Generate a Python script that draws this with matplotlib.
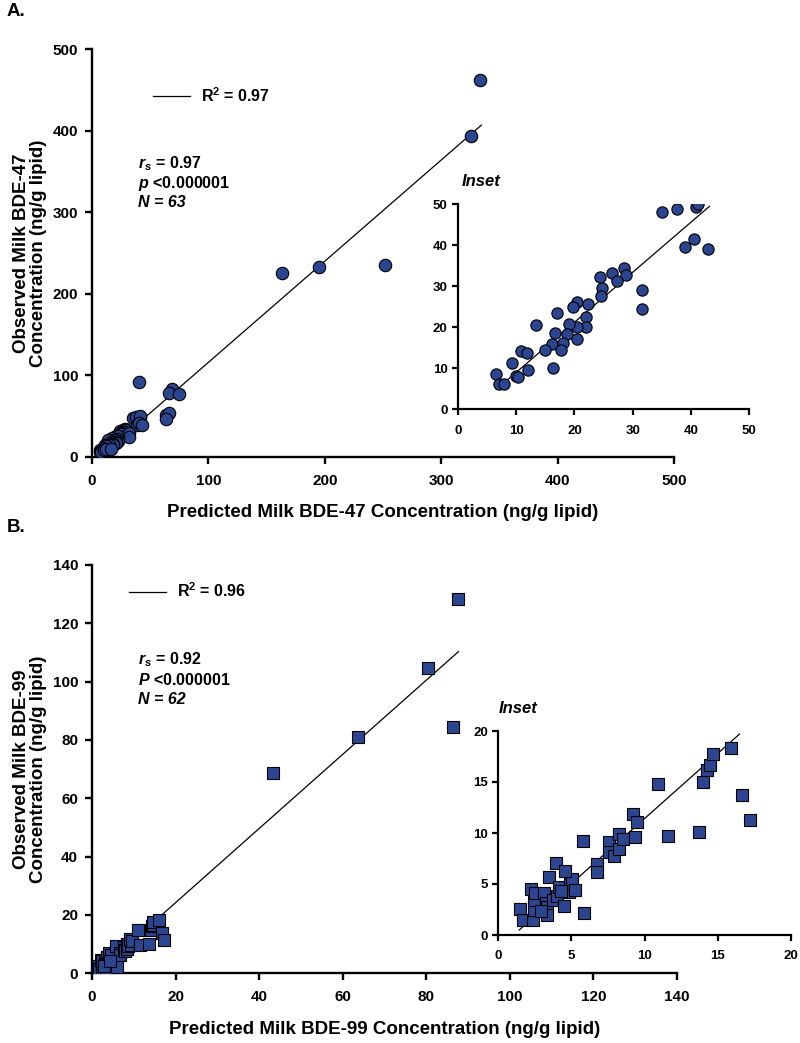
import matplotlib
matplotlib.use("Agg")
import matplotlib.pyplot as plt
import numpy as np

plt.rcParams['font.family'] = ['Liberation Sans', 'DejaVu Sans']
plt.rcParams['font.weight'] = 'bold'
plt.rcParams['mathtext.fontset'] = 'custom'
plt.rcParams['mathtext.it'] = 'Liberation Sans:italic:bold'
plt.rcParams['mathtext.rm'] = 'Liberation Sans:bold'
plt.rcParams['mathtext.bf'] = 'Liberation Sans:bold'

# ---------------- Panel A data (BDE-47) ----------------
a_pred = [35.0, 37.7, 40.9, 41.2, 39.0, 40.5, 24.4, 26.4, 28.5, 28.8, 27.4, 24.8,
          24.6, 31.7, 31.7, 20.4, 19.8, 22.4, 17.0, 22.0, 22.0, 20.5, 19.1, 13.4,
          16.7, 18.7, 20.4, 16.2, 18.0, 17.7, 14.9, 10.8, 11.8, 9.2, 6.6, 7.0,
          7.9, 9.9, 10.3, 12.1, 16.4, 43.0,
          40.7, 68.5, 66.5, 74.5, 63.6, 66.5, 63.6, 163.0, 195.0, 252.0, 325.6, 333.0]
a_obs = [48.2, 48.8, 49.4, 50.0, 39.6, 41.5, 32.4, 33.3, 34.5, 32.8, 31.2, 29.5,
         27.6, 29.2, 24.4, 26.2, 25.0, 25.8, 23.4, 22.6, 20.1, 20.1, 20.9, 20.5,
         18.7, 18.5, 17.1, 15.9, 16.2, 14.6, 14.6, 14.2, 13.8, 11.4, 8.7, 6.1,
         6.3, 8.1, 8.0, 9.6, 10.0, 39.0,
         92.3, 83.0, 78.0, 76.8, 51.5, 53.5, 47.0, 226.0, 233.0, 236.0, 393.4, 462.0]
a_fit_x = [7.0, 334.5]
a_fit_y = [0.7, 407.0]
a_inset_fit_x = [6.6, 43.2]
a_inset_fit_y = [4.9, 49.5]
a_ticks = [0, 100, 200, 300, 400, 500]
a_inset_ticks = [0, 10, 20, 30, 40, 50]

# ---------------- Panel B data (BDE-99) ----------------
b_pred = [1.48, 1.71, 2.39, 2.46, 2.44, 2.26, 2.51, 3.13, 3.26, 3.31, 3.35, 3.49,
          3.76, 4.04, 4.15, 4.52, 4.82, 4.90, 5.06, 5.25, 3.95, 4.54, 5.88, 5.77,
          6.73, 6.73, 7.60, 7.60, 7.90, 8.26, 8.26, 8.55, 9.35, 9.20, 9.50, 10.94,
          11.60, 13.70, 14.02, 14.25, 14.50, 14.70, 15.94, 16.65, 17.20, 2.90, 4.30,
          43.2, 63.7, 80.5, 86.5, 87.7]
b_obs = [2.55, 1.47, 1.47, 2.46, 3.44, 4.50, 4.10, 4.10, 3.17, 2.78, 1.96, 5.67,
         3.44, 3.86, 4.70, 2.88, 4.25, 5.00, 5.50, 4.40, 7.10, 6.30, 2.20, 9.20,
         7.00, 6.20, 9.10, 8.10, 7.70, 8.40, 9.90, 9.40, 9.60, 11.90, 11.10, 14.80,
         9.70, 10.10, 14.96, 16.20, 16.70, 17.70, 18.30, 13.70, 11.30, 2.40, 4.30,
         68.6, 81.1, 104.8, 84.5, 128.2]
b_fit_x = [1.5, 87.7]
b_fit_y = [0.7, 110.3]
b_inset_fit_x = [1.43, 16.5]
b_inset_fit_y = [0.49, 19.7]
b_ticks = [0, 20, 40, 60, 80, 100, 120, 140]
b_inset_ticks = [0, 5, 10, 15, 20]

FILL = '#2B4590'
W, H = 800, 1043
fig = plt.figure(figsize=(W / 100, H / 100), dpi=100)


def ax_px(l, r, top, bottom):
    return [l / W, 1 - bottom / H, (r - l) / W, (bottom - top) / H]


def style(ax, lab_size, lw=1.7, tl=5, xpad=7, ypad=5):
    for s in ['top', 'right']:
        ax.spines[s].set_visible(False)
    for s in ['left', 'bottom']:
        ax.spines[s].set_linewidth(lw)
    ax.tick_params(width=lw, length=tl, labelsize=lab_size, direction='out')
    ax.tick_params(axis='x', pad=xpad)
    ax.tick_params(axis='y', pad=ypad)
    for t in ax.get_xticklabels() + ax.get_yticklabels():
        t.set_fontweight('bold')


LABEL_FS = 13.5
STAT_FS = 11.5

# ---- Panel A main ----
axA = fig.add_axes(ax_px(92, 674, 49.3, 457))
axA.scatter(a_pred, a_obs, s=80, marker='o', facecolor=FILL, edgecolor='black', linewidth=0.8, zorder=3)
lnA, = axA.plot(a_fit_x, a_fit_y, color='black', linewidth=0.9, zorder=2)
axA.set_xlim(0, 500)
axA.set_ylim(0, 500)
axA.set_xticks(a_ticks)
axA.set_yticks(a_ticks)
style(axA, 11)
axA.set_xlabel('Predicted Milk BDE-47 Concentration (ng/g lipid)', fontsize=LABEL_FS, fontweight='bold', labelpad=12)
axA.set_ylabel('Observed Milk BDE-47\nConcentration (ng/g lipid)', fontsize=LABEL_FS, fontweight='bold', labelpad=4, linespacing=1.0)
axA.legend([lnA], [r'R$^{2}$ = 0.97'], loc='center left', bbox_to_anchor=(0.105, 0.887),
           frameon=False, borderpad=0, borderaxespad=0, handlelength=2.3, handletextpad=0.7,
           prop={'weight': 'bold', 'size': 11.5})
axA.text(0.079, 0.72, r'$r_s$ = 0.97', transform=axA.transAxes, fontsize=STAT_FS, fontweight='bold', va='center')
axA.text(0.079, 0.67, r'$p$ <0.000001', transform=axA.transAxes, fontsize=STAT_FS, fontweight='bold', va='center')
axA.text(0.079, 0.625, 'N = 63', transform=axA.transAxes, fontsize=STAT_FS, fontweight='bold', style='italic', va='center')
fig.text(7 / W, 1 - 12 / H, 'A.', fontsize=13.5, fontweight='bold', va='center', ha='left')

# ---- Panel A inset ----
axAi = fig.add_axes(ax_px(458, 749, 204.3, 409.5))
axAi.scatter(a_pred, a_obs, s=66, marker='o', facecolor=FILL, edgecolor='black', linewidth=0.8, zorder=3, clip_on=True)
axAi.plot(a_inset_fit_x, a_inset_fit_y, color='black', linewidth=0.9, zorder=2)
axAi.set_xlim(0, 50)
axAi.set_ylim(0, 50)
axAi.set_xticks(a_inset_ticks)
axAi.set_yticks(a_inset_ticks)
axAi.patch.set_alpha(0)
style(axAi, 9.5, lw=1.6, tl=4.5, xpad=6.5, ypad=3)
axAi.text(0.012, 1.11, 'Inset', transform=axAi.transAxes, fontsize=12, fontweight='bold', style='italic', va='center')

# ---- Panel B main ----
axB = fig.add_axes(ax_px(92, 677, 565, 973.3))
axB.scatter(b_pred, b_obs, s=64, marker='s', facecolor=FILL, edgecolor='black', linewidth=0.8, zorder=3)
lnB, = axB.plot(b_fit_x, b_fit_y, color='black', linewidth=0.9, zorder=2)
axB.set_xlim(0, 140)
axB.set_ylim(0, 140)
axB.set_xticks(b_ticks)
axB.set_yticks(b_ticks)
style(axB, 11)
axB.set_xlabel('Predicted Milk BDE-99 Concentration (ng/g lipid)', fontsize=LABEL_FS, fontweight='bold', labelpad=12)
axB.set_ylabel('Observed Milk BDE-99\nConcentration (ng/g lipid)', fontsize=LABEL_FS, fontweight='bold', labelpad=4, linespacing=1.0)
axB.legend([lnB], [r'R$^{2}$ = 0.96'], loc='center left', bbox_to_anchor=(0.064, 0.936),
           frameon=False, borderpad=0, borderaxespad=0, handlelength=2.3, handletextpad=0.7,
           prop={'weight': 'bold', 'size': 11.5})
axB.text(0.079, 0.767, r'$r_s$ = 0.92', transform=axB.transAxes, fontsize=STAT_FS, fontweight='bold', va='center')
axB.text(0.079, 0.718, r'$P$ <0.000001', transform=axB.transAxes, fontsize=STAT_FS, fontweight='bold', va='center')
axB.text(0.079, 0.67, 'N = 62', transform=axB.transAxes, fontsize=STAT_FS, fontweight='bold', style='italic', va='center')
fig.text(7 / W, 1 - 527 / H, 'B.', fontsize=13.5, fontweight='bold', va='center', ha='left')

# ---- Panel B inset ----
axBi = fig.add_axes(ax_px(498.3, 790.7, 731, 935))
axBi.scatter(b_pred, b_obs, s=66, marker='s', facecolor=FILL, edgecolor='black', linewidth=0.8, zorder=3, clip_on=True)
axBi.plot(b_inset_fit_x, b_inset_fit_y, color='black', linewidth=0.9, zorder=2)
axBi.set_xlim(0, 20)
axBi.set_ylim(0, 20)
axBi.set_xticks(b_inset_ticks)
axBi.set_yticks(b_inset_ticks)
axBi.patch.set_alpha(0)
style(axBi, 9.5, lw=1.6, tl=4.5, xpad=6.5, ypad=3)
axBi.text(0.0, 1.11, 'Inset', transform=axBi.transAxes, fontsize=12, fontweight='bold', style='italic', va='center')

fig.savefig('out.png', dpi=100)
